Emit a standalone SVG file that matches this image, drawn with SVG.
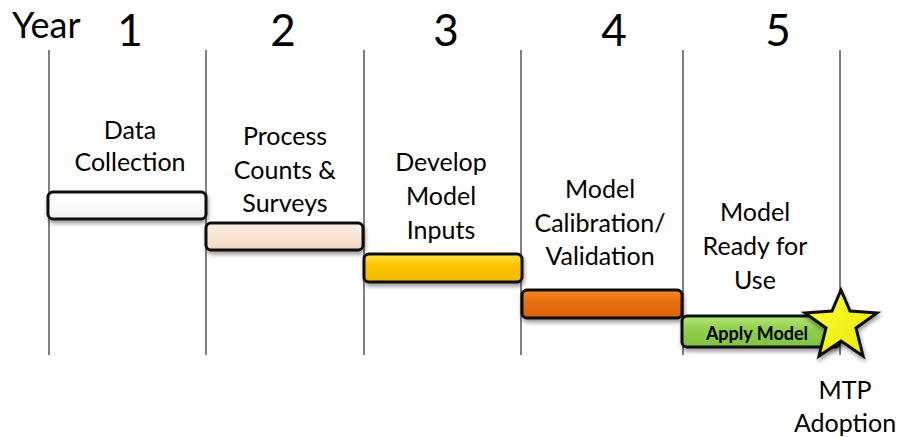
<svg xmlns="http://www.w3.org/2000/svg" width="900" height="437" viewBox="0 0 900 437">
<style>
.t{font-family:"Lato","Liberation Sans",sans-serif;font-size:25px;fill:#000;text-anchor:middle}
.n{font-family:"Lato","Liberation Sans",sans-serif;font-size:44px;fill:#000;text-anchor:middle}
.grid line{stroke:#000;stroke-width:1}
.bar{stroke:#111;stroke-width:3}
</style>
<defs>
<linearGradient id="gw" x1="0" y1="0" x2="0" y2="1"><stop offset="0" stop-color="#fff"/><stop offset="0.6" stop-color="#fafafa"/><stop offset="1" stop-color="#eee"/></linearGradient>
<linearGradient id="gp" x1="0" y1="0" x2="0" y2="1"><stop offset="0" stop-color="#fbeee4"/><stop offset="0.6" stop-color="#f8e3d3"/><stop offset="1" stop-color="#f0d4bf"/></linearGradient>
<linearGradient id="gy" x1="0" y1="0" x2="0" y2="1"><stop offset="0" stop-color="#ffe74a"/><stop offset="0.4" stop-color="#fbc400"/><stop offset="1" stop-color="#f3b800"/></linearGradient>
<linearGradient id="go" x1="0" y1="0" x2="0" y2="1"><stop offset="0" stop-color="#f58a2a"/><stop offset="0.4" stop-color="#e8700e"/><stop offset="1" stop-color="#dc6208"/></linearGradient>
<linearGradient id="gg" x1="0" y1="0" x2="0" y2="1"><stop offset="0" stop-color="#b4e878"/><stop offset="0.4" stop-color="#92d050"/><stop offset="1" stop-color="#82c040"/></linearGradient>
<linearGradient id="gs" x1="0" y1="0" x2="1" y2="1"><stop offset="0" stop-color="#ffff40"/><stop offset="1" stop-color="#e8e800"/></linearGradient>
<filter id="sh" x="-10%" y="-30%" width="120%" height="180%"><feGaussianBlur in="SourceAlpha" stdDeviation="2"/><feOffset dx="1" dy="3"/><feComponentTransfer><feFuncA type="linear" slope="0.4"/></feComponentTransfer><feMerge><feMergeNode/><feMergeNode in="SourceGraphic"/></feMerge></filter>
</defs>
<g class="grid">
<line x1="49" y1="50" x2="49" y2="355"/>
<line x1="206" y1="50" x2="206" y2="355"/>
<line x1="364" y1="50" x2="364" y2="355"/>
<line x1="521" y1="50" x2="521" y2="355"/>
<line x1="683" y1="50" x2="683" y2="355"/>
<line x1="840" y1="50" x2="840" y2="355"/>
</g>
<text x="12" y="38" font-family="Lato,'Liberation Sans',sans-serif" font-size="36">Year</text>
<text class="n" x="130" y="46">1</text>
<text class="n" x="283" y="46">2</text>
<text class="n" x="446" y="46">3</text>
<text class="n" x="614" y="46">4</text>
<text class="n" x="778" y="46">5</text>
<g id="phase1">
<rect class="bar" x="48" y="192" width="158" height="27" rx="5" fill="url(#gw)" filter="url(#sh)"/>
<text class="t" x="130" y="139">Data</text>
<text class="t" x="130" y="171">Collection</text>
</g>
<g id="phase2">
<rect class="bar" x="206" y="223" width="157" height="27" rx="5" fill="url(#gp)" filter="url(#sh)"/>
<text class="t" x="285" y="145">Process</text>
<text class="t" x="285" y="179">Counts &amp;</text>
<text class="t" x="285" y="212">Surveys</text>
</g>
<g id="phase3">
<rect class="bar" x="364" y="254" width="158" height="28" rx="5" fill="url(#gy)" filter="url(#sh)"/>
<text class="t" x="441" y="171">Develop</text>
<text class="t" x="441" y="205">Model</text>
<text class="t" x="441" y="239">Inputs</text>
</g>
<g id="phase4">
<rect class="bar" x="522" y="290" width="160" height="28" rx="5" fill="url(#go)" filter="url(#sh)"/>
<text class="t" x="600" y="198">Model</text>
<text class="t" x="600" y="232">Calibration/</text>
<text class="t" x="600" y="265">Validation</text>
</g>
<g id="phase5">
<rect class="bar" x="682" y="316" width="158" height="31" rx="5" fill="url(#gg)" filter="url(#sh)"/>
<text x="757" y="340" font-family="Lato,'Liberation Sans',sans-serif" font-size="18" font-weight="bold" text-anchor="middle">Apply Model</text>
<text class="t" x="755" y="221">Model</text>
<text class="t" x="755" y="255">Ready for</text>
<text class="t" x="755" y="289">Use</text>
</g>
<g id="mtp">
<polygon points="841,290 850,311 877,313 856,328 863,356 841,341 819,356 826,328 805,313 832,311" fill="url(#gs)" stroke="#111" stroke-width="3" stroke-linejoin="miter" filter="url(#sh)"/>
<text class="t" x="845" y="399">MTP</text>
<text class="t" x="845" y="432">Adoption</text>
</g>
</svg>
